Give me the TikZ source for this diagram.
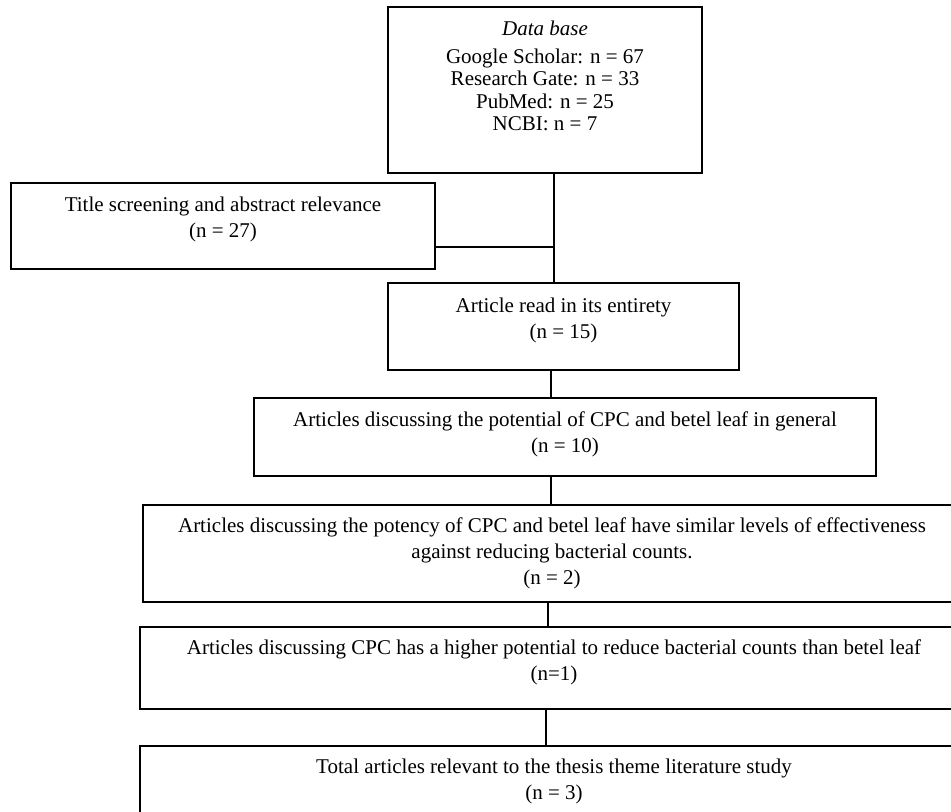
\documentclass[tikz,border=0pt]{standalone}
\usepackage{fontspec}
\setmainfont{Liberation Serif}
\begin{document}
\begin{tikzpicture}[x=0.5pt,y=-0.5pt,
  box/.style={draw=black, line width=0.6pt, rectangle, inner sep=0pt},
  lbl/.style={anchor=north, inner sep=0pt, align=center, font=\fontsize{10.5}{13}\selectfont},
  conn/.style={draw=black, line width=0.6pt}
]
\useasboundingbox (0,0) rectangle (951,811);
\clip (0,0) rectangle (951,811);
\fill[white] (0,0) rectangle (951,811);

\node[box, minimum width=157pt, minimum height=83pt,
  label={[lbl, font=\fontsize{10.5}{11.25}\selectfont]north:{\rule{0pt}{14.35pt}\textit{Data base}\\[2.6pt]Google Scholar: n = 67\\Research Gate: n = 33\\PubMed: n = 25\\NCBI: n = 7}}]
  (db) at (545,90) {};

\node[box, minimum width=212pt, minimum height=43pt,
  label={[lbl, font=\fontsize{10.5}{13.15}\selectfont]north:{\rule{0pt}{14.35pt}Title screening and abstract relevance\\(n = 27)}}]
  (title) at (223,226) {};

\node[box, minimum width=175.5pt, minimum height=43.5pt,
  label={[lbl]north:{\rule{0pt}{15pt}Article read in its entirety\\(n = 15)}}]
  (art) at (563.5,326.5) {};

\node[box, minimum width=311pt, minimum height=39pt,
  label={[lbl]north:{\rule{0pt}{14.5pt}Articles discussing the potential of CPC and betel leaf in general\\(n = 10)}}]
  (pot) at (565,437) {};

\node[box, minimum width=409pt, minimum height=48.5pt,
  label={[lbl]north:{\rule{0pt}{14pt}Articles discussing the potency of CPC and betel leaf have similar levels of effectiveness\\against reducing bacterial counts.\\(n = 2)}}]
  (sim) at (552,553.5) {};

\node[box, minimum width=414pt, minimum height=41pt,
  label={[lbl]north:{\rule{0pt}{14pt}Articles discussing CPC has a higher potential to reduce bacterial counts than betel leaf\\(n=1)}}]
  (hig) at (554,668) {};

\node[box, minimum width=414pt, minimum height=42pt,
  label={[lbl]north:{\rule{0pt}{14pt}Total articles relevant to the thesis theme literature study\\(n = 3)}}]
  (tot) at (554,788) {};

\coordinate (j) at (554,247);
\coordinate (k1) at (551,0);
\coordinate (k2) at (548,0);
\coordinate (k3) at (546,0);

\draw[conn] (db.south -| j) -- (art.north -| j);
\draw[conn] (title.east |- j) -- (j);
\draw[conn] (art.south -| k1) -- (pot.north -| k1);
\draw[conn] (pot.south -| k1) -- (sim.north -| k1);
\draw[conn] (sim.south -| k2) -- (hig.north -| k2);
\draw[conn] (hig.south -| k3) -- (tot.north -| k3);
\end{tikzpicture}
\end{document}
